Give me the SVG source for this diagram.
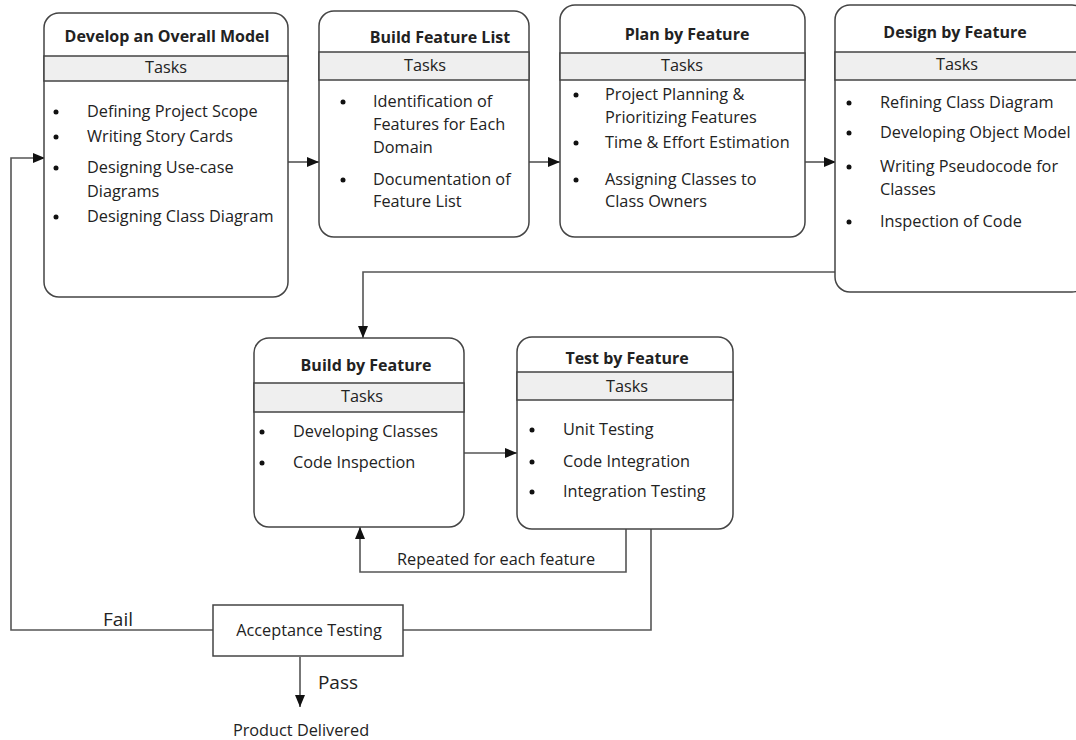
<svg xmlns="http://www.w3.org/2000/svg" width="1076" height="740" viewBox="0 0 1076 740">
<defs>
<marker id="arr" viewBox="0 0 12 10" refX="12" refY="5" markerWidth="12" markerHeight="10" markerUnits="userSpaceOnUse" orient="auto">
<path d="M0,0 L12,5 L0,10 Z" fill="#111"/>
</marker>
</defs>
<style>
text{font-family:"Open Sans","Noto Sans",sans-serif;fill:#222;font-size:16.3px}
.t{font-weight:bold;text-anchor:middle;font-size:16px}
.k{text-anchor:middle}
.box{fill:#fff;stroke:#444;stroke-width:1.5}
.band{fill:#efefef;stroke:#444;stroke-width:1.5}
.c{fill:none;stroke:#555;stroke-width:1.6}
.b{fill:#111}
.big{font-size:19px}
</style>
<rect width="1076" height="740" fill="#fff"/>

<g id="connectors">
<path class="c" d="M288,162 L319,162" marker-end="url(#arr)"/>
<path class="c" d="M529,162 L560,162" marker-end="url(#arr)"/>
<path class="c" d="M805,162 L836,162" marker-end="url(#arr)"/>
<path class="c" d="M835,272 L363,272 L363,338" marker-end="url(#arr)"/>
<path class="c" d="M464,453 L517,453" marker-end="url(#arr)"/>
<path class="c" d="M626,529 L626,572 L360,572 L360,527" marker-end="url(#arr)"/>
<path class="c" d="M651,529 L651,630 L403,630"/>
<path class="c" d="M213,630 L11,630 L11,158 L45,158" marker-end="url(#arr)"/>
<path class="c" d="M300,657 L300,707" marker-end="url(#arr)"/>
<text x="496" y="565" class="k">Repeated for each feature</text>
<text x="118" y="626" class="k big">Fail</text>
<text x="338" y="689" class="k big">Pass</text>
<text x="301" y="736" class="k">Product Delivered</text>
</g>

<g id="develop-overall-model">
<rect class="box" x="44" y="13" width="244" height="284" rx="15"/>
<rect class="band" x="44" y="56" width="244" height="25"/>
<text x="167" y="42" class="t">Develop an Overall Model</text>
<text x="166" y="73" class="k">Tasks</text>
<circle class="b" cx="56" cy="112" r="2.5"/><text x="87" y="117">Defining Project Scope</text>
<circle class="b" cx="56" cy="137" r="2.5"/><text x="87" y="142">Writing Story Cards</text>
<circle class="b" cx="56" cy="168" r="2.5"/><text x="87" y="173">Designing Use-case</text>
<text x="87" y="197">Diagrams</text>
<circle class="b" cx="56" cy="217" r="2.5"/><text x="87" y="222">Designing Class Diagram</text>
</g>

<g id="build-feature-list">
<rect class="box" x="319" y="11" width="210" height="226" rx="15"/>
<rect class="band" x="319" y="52" width="210" height="28"/>
<text x="440" y="43" class="t">Build Feature List</text>
<text x="425" y="71" class="k">Tasks</text>
<circle class="b" cx="343" cy="102" r="2.5"/><text x="373" y="107">Identification of</text>
<text x="373" y="130">Features for Each</text>
<text x="373" y="153">Domain</text>
<circle class="b" cx="343" cy="180" r="2.5"/><text x="373" y="185">Documentation of</text>
<text x="373" y="207">Feature List</text>
</g>

<g id="plan-by-feature">
<rect class="box" x="560" y="5" width="245" height="232" rx="15"/>
<rect class="band" x="560" y="53" width="245" height="27"/>
<text x="687" y="40" class="t">Plan by Feature</text>
<text x="682" y="71" class="k">Tasks</text>
<circle class="b" cx="576" cy="95" r="2.5"/><text x="605" y="100">Project Planning &amp;</text>
<text x="605" y="123">Prioritizing Features</text>
<circle class="b" cx="576" cy="143" r="2.5"/><text x="605" y="148">Time &amp; Effort Estimation</text>
<circle class="b" cx="576" cy="180" r="2.5"/><text x="605" y="185">Assigning Classes to</text>
<text x="605" y="207">Class Owners</text>
</g>

<g id="design-by-feature">
<rect class="box" x="835" y="5" width="252" height="287" rx="15"/>
<rect class="band" x="835" y="52" width="252" height="28"/>
<text x="955" y="38" class="t">Design by Feature</text>
<text x="957" y="70" class="k">Tasks</text>
<circle class="b" cx="849" cy="103" r="2.5"/><text x="880" y="108">Refining Class Diagram</text>
<circle class="b" cx="849" cy="133" r="2.5"/><text x="880" y="138">Developing Object Model</text>
<circle class="b" cx="849" cy="167" r="2.5"/><text x="880" y="172">Writing Pseudocode for</text>
<text x="880" y="195">Classes</text>
<circle class="b" cx="849" cy="222" r="2.5"/><text x="880" y="227">Inspection of Code</text>
</g>

<g id="build-by-feature">
<rect class="box" x="254" y="338" width="210" height="189" rx="15"/>
<rect class="band" x="254" y="383" width="210" height="29"/>
<text x="366" y="371" class="t">Build by Feature</text>
<text x="362" y="402" class="k">Tasks</text>
<circle class="b" cx="262" cy="432" r="2.5"/><text x="293" y="437">Developing Classes</text>
<circle class="b" cx="262" cy="463" r="2.5"/><text x="293" y="468">Code Inspection</text>
</g>

<g id="test-by-feature">
<rect class="box" x="517" y="337" width="216" height="192" rx="15"/>
<rect class="band" x="517" y="372" width="216" height="28"/>
<text x="627" y="364" class="t">Test by Feature</text>
<text x="627" y="392" class="k">Tasks</text>
<circle class="b" cx="532" cy="430" r="2.5"/><text x="563" y="435">Unit Testing</text>
<circle class="b" cx="532" cy="462" r="2.5"/><text x="563" y="467">Code Integration</text>
<circle class="b" cx="532" cy="492" r="2.5"/><text x="563" y="497">Integration Testing</text>
</g>

<g id="acceptance-testing">
<rect x="213" y="605" width="190" height="51" fill="#fff" stroke="#444" stroke-width="1.5"/>
<text x="309" y="636" class="k">Acceptance Testing</text>
</g>
</svg>
